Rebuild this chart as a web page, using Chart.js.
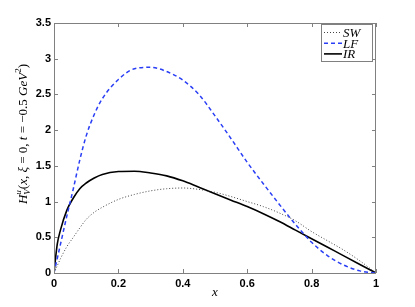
<!DOCTYPE html>
<html>
<head>
<meta charset="utf-8">
<script src="https://cdn.jsdelivr.net/npm/chart.js@4.4.0/dist/chart.umd.min.js"></script>
<style>
  html, body { margin: 0; padding: 0; background: #fff; }
  #wrap { width: 415px; height: 307px; }
</style>
</head>
<body>
<div id="wrap"><canvas id="gpdChart" width="415" height="307"></canvas></div>
<script>
// x grid the curves were read at
const xs = [0, 0.01, 0.02, 0.04, 0.06, 0.08, 0.1, 0.125, 0.15, 0.2, 0.25, 0.3, 0.35, 0.4,
  0.45, 0.5, 0.55, 0.6, 0.65, 0.7, 0.75, 0.8, 0.85, 0.9, 0.95, 1];

const swValues = [0, 0.1, 0.2, 0.37, 0.5, 0.63, 0.75, 0.85, 0.92, 1.03, 1.1, 1.15, 1.18, 1.19,
  1.17, 1.13, 1.07, 1.0, 0.93, 0.84, 0.73, 0.58, 0.45, 0.32, 0.17, 0];
const lfValues = [0, 0.2, 0.4, 0.8, 1.18, 1.58, 1.92, 2.22, 2.44, 2.71, 2.86, 2.88, 2.82, 2.7,
  2.5, 2.2, 1.88, 1.55, 1.25, 0.96, 0.68, 0.43, 0.24, 0.11, 0.03, 0];
const irValues = [0, 0.4, 0.6, 0.88, 1.05, 1.18, 1.26, 1.33, 1.38, 1.42, 1.425, 1.4, 1.36, 1.29,
  1.2, 1.11, 1.02, 0.93, 0.83, 0.72, 0.6, 0.48, 0.36, 0.24, 0.12, 0];

const seriesNames = ['SW', 'LF', 'IR'];
const xTicks = [0, 0.2, 0.4, 0.6, 0.8, 1];
const yTicks = [0, 0.5, 1, 1.5, 2, 2.5, 3, 3.5];

const toPoints = vals => xs.map((x, i) => ({ x: x, y: vals[i] }));

const styles = {
  SW: { color: '#444444', width: 1, dash: [1, 2] },
  LF: { color: '#2a3ff5', width: 1.5, dash: [4, 3] },
  IR: { color: '#000000', width: 1.6, dash: [] },
};

const serif = '"Liberation Serif", "DejaVu Serif", serif';
const tickFont = { family: '"Liberation Sans", Arial, sans-serif', size: 11, weight: 'bold' };

// frame, inward ticks, legend and the y label
const decorPlugin = {
  id: 'decor',
  afterDraw(chart) {
    const c = chart.ctx;
    const a = chart.chartArea;
    const sx = chart.scales.x;
    const sy = chart.scales.y;
    c.save();
    c.strokeStyle = '#808080';
    c.lineWidth = 1;
    c.setLineDash([]);
    c.strokeRect(a.left + 0.5, a.top + 0.5, a.right - a.left - 1, a.bottom - a.top);
    c.beginPath();
    xTicks.forEach(t => {
      const px = Math.round(sx.getPixelForValue(t)) + 0.5;
      c.moveTo(px, a.bottom); c.lineTo(px, a.bottom - 4);
      c.moveTo(px, a.top); c.lineTo(px, a.top + 4);
    });
    yTicks.forEach(t => {
      const py = Math.round(sy.getPixelForValue(t)) + 0.5;
      c.moveTo(a.left, py); c.lineTo(a.left + 4, py);
      c.moveTo(a.right, py); c.lineTo(a.right - 4, py);
    });
    c.stroke();

    // legend
    const lx = 321, ly = 24, lw = 51, lh = 37;
    c.fillStyle = '#fff';
    c.fillRect(lx, ly, lw, lh);
    c.strokeStyle = '#808080';
    c.strokeRect(lx + 0.5, ly + 0.5, lw, lh);
    seriesNames.forEach((name, i) => {
      const st = styles[name];
      const y = ly + 8.5 + i * 10.7;
      c.strokeStyle = st.color;
      c.lineWidth = st.width;
      c.setLineDash(st.dash);
      c.beginPath();
      c.moveTo(324, y); c.lineTo(342, y);
      c.stroke();
      c.setLineDash([]);
      c.fillStyle = '#000';
      c.font = 'italic 13px ' + serif;
      c.textBaseline = 'middle';
      c.textAlign = 'left';
      c.fillText(name, 343, y + 1);
    });

    // y axis label with sup/sub
    c.translate(23, 134);
    c.rotate(-Math.PI / 2);
    c.fillStyle = '#000';
    c.textBaseline = 'alphabetic';
    c.textAlign = 'left';
    const big = 'italic 13px ' + serif;
    const rom = '13px ' + serif;
    const small = 'italic 9px ' + serif;
    const parts = [
      ['H', big, 0], ['u', small, -6, true], ['V', small, 3],
      ['(', rom, 0], ['x', big, 0], [', ', rom, 0], ['ξ', big, 0], [' = 0, ', rom, 0],
      ['t', big, 0], [' = −0.5 ', rom, 0], ['GeV', big, 0], ['2', '9px ' + serif, -6], [')', rom, 0],
    ];
    let total = 0;
    const widths = parts.map(p => { c.font = p[1]; return c.measureText(p[0]).width; });
    parts.forEach((p, i) => { if (!p[3]) total += widths[i]; });
    let x = -total / 2;
    parts.forEach((p, i) => {
      c.font = p[1];
      c.fillText(p[0], x, 4 + p[2]);
      if (!p[3]) x += widths[i];
    });
    c.restore();
  },
};

const ctx = document.getElementById('gpdChart');
new Chart(ctx, {
  type: 'line',
  data: {
    datasets: [
      { label: 'SW', data: toPoints(swValues) },
      { label: 'LF', data: toPoints(lfValues) },
      { label: 'IR', data: toPoints(irValues) },
    ].map(d => Object.assign(d, {
      borderColor: styles[d.label].color,
      borderWidth: styles[d.label].width,
      borderDash: styles[d.label].dash,
      pointRadius: 0,
      fill: false,
      cubicInterpolationMode: 'monotone',
    })),
  },
  options: {
    responsive: false,
    animation: false,
    layout: { padding: { left: 0, top: 23, right: 39, bottom: 0 } },
    plugins: { legend: { display: false }, tooltip: { enabled: false } },
    scales: {
      x: {
        type: 'linear',
        min: 0,
        max: 1,
        afterBuildTicks: s => { s.ticks = xTicks.map(v => ({ value: v })); },
        afterFit: s => { s.height = 34; },
        grid: { display: false, drawTicks: false },
        border: { display: false },
        ticks: { autoSkip: false, maxRotation: 0, padding: 4, color: '#000', font: tickFont,
          callback: v => String(+v.toFixed(2)) },
        title: { display: true, text: 'x', color: '#000', padding: { top: 0, bottom: 7 },
          font: { family: serif, size: 13, style: 'italic' } },
      },
      y: {
        min: 0,
        max: 3.5,
        afterBuildTicks: s => { s.ticks = yTicks.map(v => ({ value: v })); },
        afterFit: s => { s.width = 54; },
        grid: { display: false, drawTicks: false },
        border: { display: false },
        ticks: { autoSkip: false, padding: 3, color: '#000', font: tickFont,
          callback: v => String(+v.toFixed(2)) },
      },
    },
  },
  plugins: [decorPlugin],
});
</script>
</body>
</html>
